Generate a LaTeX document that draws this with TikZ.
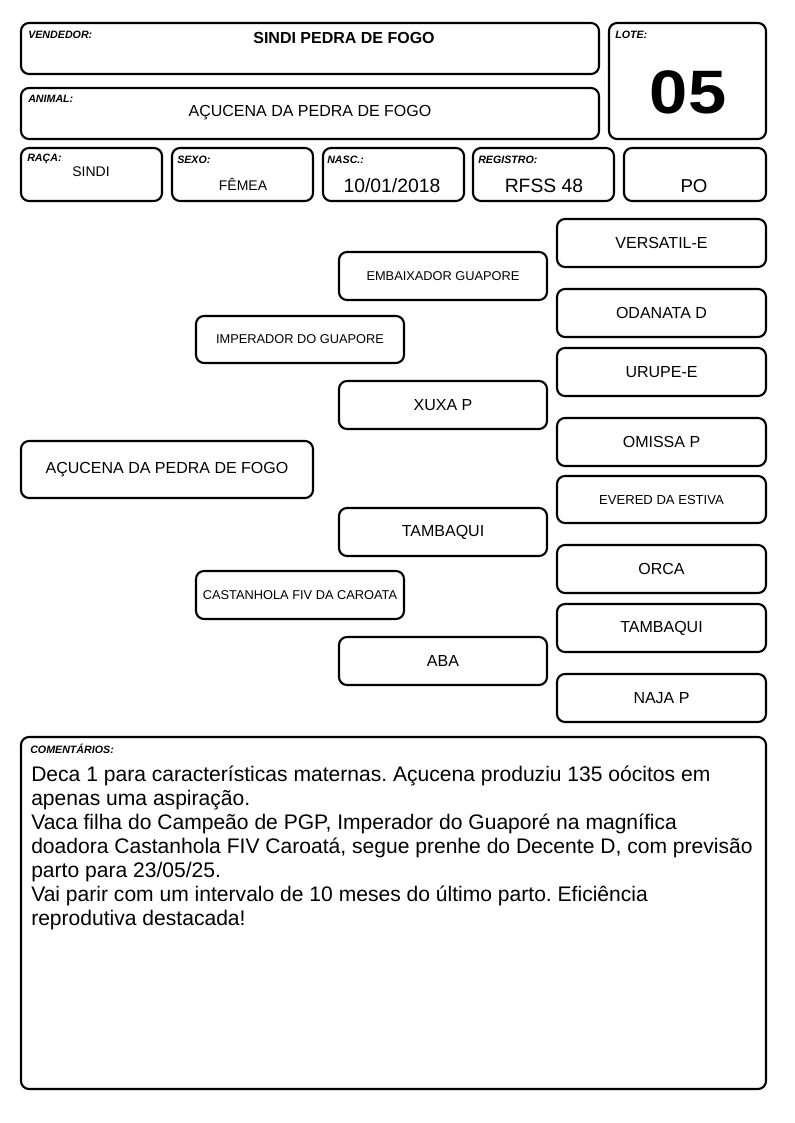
\documentclass[tikz,border=0pt]{standalone}
\usepackage{fontspec}
\usepackage{graphicx}
\setmainfont{Liberation Sans}
\frenchspacing
\newcommand\fs[1]{\fontsize{#1}{#1}\selectfont}
\newcommand\pedbox[7]{\node[box,minimum width={(#4-#2)*0.75pt},minimum height={(#5-#3)*0.75pt},font=#6] (#1) at ({(#2+#4)/2},{(#3+#5)/2}) {#7};}
\begin{document}
\begin{tikzpicture}[x=0.75pt,y=-0.75pt,
  box/.style={draw,line width=1.6pt,rounded corners=6pt,inner sep=0pt,align=center},
  lbl/.style={font=\fs{8}\bfseries\itshape,inner sep=0pt,anchor=west},
  txt/.style={inner sep=0pt},
  cmt/.style={font=\fontsize{15.8}{18}\selectfont,inner sep=0pt,anchor=base west}]
\useasboundingbox (0,0) rectangle (794,1123);
% header
\pedbox{vend}{21}{23}{599}{74}{\fs{12}}{}
\pedbox{anim}{21}{88}{599}{139}{\fs{12}}{}
\pedbox{lote}{609}{23}{766}{139}{\fs{12}}{}
\pedbox{raca}{21}{148}{162}{201}{\fs{12}}{}
\pedbox{sexo}{172}{148}{313}{201}{\fs{12}}{}
\pedbox{nasc}{323}{148}{464}{201}{\fs{12}}{}
\pedbox{reg}{473}{148}{614}{201}{\fs{12}}{}
\pedbox{po}{624}{148}{766}{201}{\fs{12}}{}
\node[lbl] (lvend) at (28,35) {VENDEDOR:};
\node[lbl] (lanim) at (28,99) {ANIMAL:};
\node[lbl] (llote) at (615,35) {LOTE:};
\node[lbl] (lraca) at (27,159) {RAÇA:};
\node[lbl] (lsexo) at (177,160) {SEXO:};
\node[lbl] (lnasc) at (327,160) {NASC.:};
\node[lbl] (lreg) at (478,160) {REGISTRO:};
\node[txt,font=\fs{12}\bfseries] (tvend) at (344,38) {SINDI PEDRA DE FOGO};
\node[txt,font=\fs{12}] (tanim) at (310,113) {AÇUCENA DA PEDRA DE FOGO};
\node[txt,font=\fs{46}\bfseries] (tlote) at (688,92) {\scalebox{1.12}[1]{05}};
\node[txt,font=\fs{10.5}] (traca) at (91,172) {SINDI};
\node[txt,font=\fs{10.5}] (tsexo) at (243,184) {FÊMEA};
\node[txt,font=\fs{14.5}] (tnasc) at (392,186) {10/01/2018};
\node[txt,font=\fs{14.5}] (treg) at (544,186) {RFSS 48};
\node[txt,font=\fs{14}] (tpo) at (694,186) {PO};
% pedigree
\pedbox{animal}{21}{441}{313}{498}{\fs{12}}{AÇUCENA DA PEDRA DE FOGO}
\pedbox{sire}{196}{316}{404}{363}{\fs{9.6}}{IMPERADOR DO GUAPORE}
\pedbox{dam}{196}{571}{404}{619}{\fs{9.6}}{CASTANHOLA FIV DA CAROATA}
\pedbox{gpa}{339}{252}{547}{300}{\fs{9.6}}{EMBAIXADOR GUAPORE}
\pedbox{gpb}{339}{381}{547}{429}{\fs{12}}{XUXA P}
\pedbox{gpc}{339}{508}{547}{556}{\fs{12}}{TAMBAQUI}
\pedbox{gpd}{339}{637}{547}{685}{\fs{12}}{ABA}
\pedbox{ggpa}{557}{219}{766}{267}{\fs{12}}{VERSATIL-E}
\pedbox{ggpb}{557}{289}{766}{337}{\fs{12}}{ODANATA D}
\pedbox{ggpc}{557}{348}{766}{396}{\fs{12}}{URUPE-E}
\pedbox{ggpd}{557}{418}{766}{466}{\fs{12}}{OMISSA P}
\pedbox{ggpe}{557}{476}{766}{523}{\fs{9.8}}{EVERED DA ESTIVA}
\pedbox{ggpf}{557}{545}{766}{593}{\fs{12}}{ORCA}
\pedbox{ggpg}{557}{604}{766}{652}{\fs{12}}{TAMBAQUI}
\pedbox{ggph}{557}{674}{766}{722}{\fs{12}}{NAJA P}
% comments
\pedbox{coment}{21}{737}{766}{1089}{\fs{12}}{}
\node[lbl] (lcoment) at (30,749) {COMENTÁRIOS:};
\node[cmt] (c1) at (31,781) {Deca 1 para características maternas. Açucena produziu 135 oócitos em};
\node[cmt] (c2) at (31,805) {apenas uma aspiração.};
\node[cmt] (c3) at (31,829) {Vaca filha do Campeão de PGP, Imperador do Guaporé na magnífica};
\node[cmt] (c4) at (31,853) {doadora Castanhola FIV Caroatá, segue prenhe do Decente D, com previsão};
\node[cmt] (c5) at (31,877) {parto para 23/05/25.};
\node[cmt] (c6) at (31,901) {Vai parir com um intervalo de 10 meses do último parto. Eficiência};
\node[cmt] (c7) at (31,925) {reprodutiva destacada!};
\end{tikzpicture}
\end{document}
